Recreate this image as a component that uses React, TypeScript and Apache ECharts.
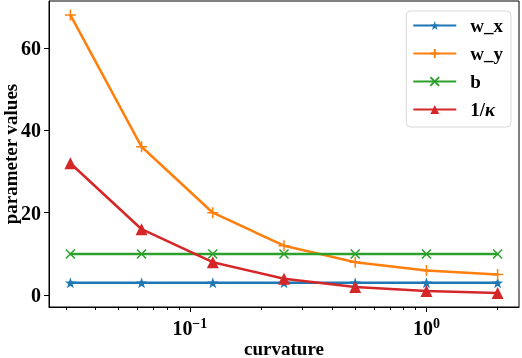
import React, { useEffect, useRef } from 'react';
import * as echarts from 'echarts';

const curvature = [1 / 32, 1 / 16, 1 / 8, 1 / 4, 1 / 2, 1, 2];
const wX = [3, 3, 3, 3, 3, 3, 3];
const wY = [68, 36, 20, 12, 8, 6, 5];
const bVals = [10, 10, 10, 10, 10, 10, 10];
const invKappa = [32, 16, 8, 4, 2, 1, 0.5];
const seriesNames = ['w_x', 'w_y', 'b', '1/κ'];
const yTicks = [0, 20, 40, 60];
const xMajorTicks = [0.1, 1];
const xMinorTicks = [0.03, 0.04, 0.05, 0.06, 0.07, 0.08, 0.09, 0.2, 0.3, 0.4, 0.5, 0.6, 0.7, 0.8, 0.9, 2];

const FONT = 'Liberation Serif';
const STAR = 'path://M0,-10L2.35,-3.24L9.51,-3.09L3.8,1.24L5.88,8.09L0,4L-5.88,8.09L-3.8,1.24L-9.51,-3.09L-2.35,-3.24Z';
const PLUS = 'path://M0,-5L0,5M-5,0L5,0';
const CROSS = 'path://M-5,-5L5,5M-5,5L5,-5';

const X_MIN = Math.pow(10, -1.59546);
const X_MAX = Math.pow(10, 0.39134);

const pairs = (ys: number[]) => curvature.map((x, i) => [x, ys[i]]);

export default function App() {
  const ref = useRef<HTMLDivElement>(null);
  useEffect(() => {
    const chart = echarts.init(ref.current!, null, { renderer: 'svg' });
    const mk = (name: string, ys: number[], color: string, symbol: string, size: number, stroke: boolean) => ({
      name,
      type: 'line',
      data: pairs(ys),
      xAxisIndex: 0,
      symbol,
      symbolSize: size,
      showSymbol: true,
      color,
      lineStyle: { color, width: 2.5 },
      itemStyle: stroke
        ? { color: 'none', borderColor: color, borderWidth: 1.5 }
        : { color, borderWidth: 0 },
      emphasis: { disabled: true },
      z: 3,
    });
    chart.setOption({
      animation: false,
      textStyle: { fontFamily: FONT, fontWeight: 'bold' },
      grid: {
        left: 49, top: 1, right: 3, bottom: 51, show: true, borderColor: '#000', borderWidth: 1,
        backgroundColor: 'transparent', containLabel: false, outerBoundsMode: 'none',
      },
      legend: {
        orient: 'vertical',
        right: 11,
        top: 11,
        data: seriesNames,
        itemWidth: 43,
        itemHeight: 11,
        itemGap: 9,
        padding: [5, 8, 8, 6],
        borderColor: '#d8d8d8',
        borderWidth: 1,
        borderRadius: 4,
        backgroundColor: 'rgba(255,255,255,0.8)',
        textStyle: {
          fontFamily: FONT, fontWeight: 'bold', fontSize: 19, color: '#000', lineHeight: 19,
          padding: [0, 0, 0, 9],
          rich: { i: { fontFamily: FONT, fontStyle: 'italic', fontWeight: 'bold', fontSize: 19 } },
        },
        formatter: (n: string) => (n === '1/κ' ? '1/{i|κ}' : n),
      },
      xAxis: [
        {
          type: 'log', logBase: 10, min: X_MIN, max: X_MAX,
          name: 'curvature', nameLocation: 'middle', nameGap: 32, nameMoveOverlap: false,
          nameTextStyle: { fontFamily: FONT, fontWeight: 'bold', fontSize: 19, color: '#000', lineHeight: 19 },
          axisLine: { show: true, onZero: false, lineStyle: { color: '#000', width: 1 } },
          axisTick: { show: true, length: 5, customValues: xMajorTicks, lineStyle: { color: '#000' } },
          axisLabel: {
            customValues: xMajorTicks, margin: 9, color: '#000', hideOverlap: false,
            formatter: (v: number) => {
              const e = Math.round(Math.log10(v));
              return '{b|10}{s|' + (e < 0 ? '−' + -e : String(e)) + '}';
            },
            rich: {
              b: { fontFamily: FONT, fontWeight: 'bold', fontSize: 20, color: '#000' },
              s: { fontFamily: FONT, fontWeight: 'bold', fontSize: 14, color: '#000', padding: [0, 0, 10, 0] },
            },
          },
          splitLine: { show: false },
          minorTick: { show: false },
        },
        {
          type: 'log', logBase: 10, min: X_MIN, max: X_MAX, position: 'bottom',
          axisLine: { show: false, onZero: false },
          axisTick: { show: true, length: 3, customValues: xMinorTicks, lineStyle: { color: '#000' } },
          axisLabel: { show: false },
          splitLine: { show: false },
        },
      ],
      yAxis: {
        type: 'value', min: -2.875, max: 71.375,
        name: 'parameter values', nameLocation: 'middle', nameGap: 29, nameMoveOverlap: false,
        nameTextStyle: { fontFamily: FONT, fontWeight: 'bold', fontSize: 19, color: '#000', lineHeight: 19 },
        axisLine: { show: true, onZero: false, lineStyle: { color: '#000', width: 1 } },
        axisTick: { show: true, length: 5, customValues: yTicks, lineStyle: { color: '#000' } },
        axisLabel: { customValues: yTicks, margin: 8, fontFamily: FONT, fontWeight: 'bold', fontSize: 20, color: '#000' },
        splitLine: { show: false },
      },
      series: [
        mk('w_x', wX, '#1f77b4', STAR, 11, false),
        mk('w_y', wY, '#ff7f0e', PLUS, 11, true),
        mk('b', bVals, '#2ca02c', CROSS, 9, true),
        mk('1/κ', invKappa, '#d62728', 'triangle', 12, false),
      ],
    });
    return () => chart.dispose();
  }, []);
  return <div ref={ref} style={{ position: 'fixed', left: 0, top: 0, width: 522, height: 358 }} />;
}
